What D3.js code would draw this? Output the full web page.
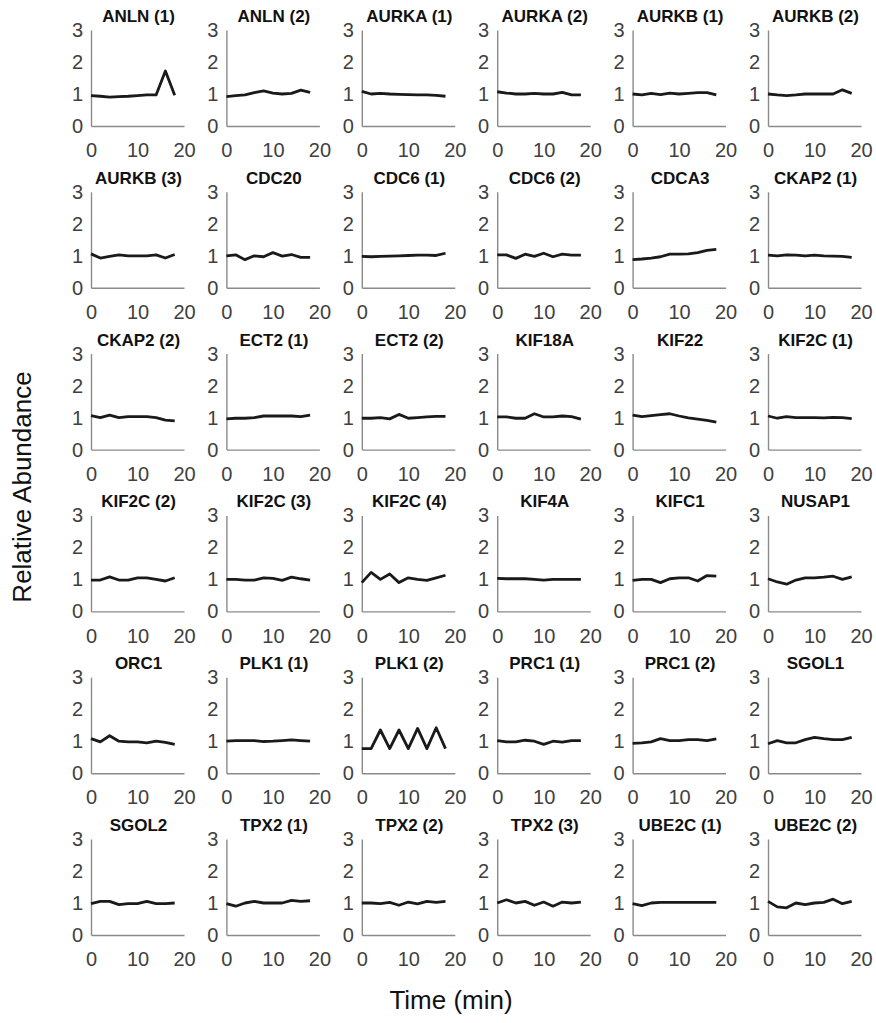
<!DOCTYPE html>
<html>
<head>
<meta charset="utf-8">
<script src="https://cdn.jsdelivr.net/npm/d3@7"></script>
<style>
  html, body { margin: 0; padding: 0; background: #fff; }
  svg { display: block; }
</style>
</head>
<body>
<svg id="chart" width="876" height="1023"></svg>
<script>
const times = [0, 2, 4, 6, 8, 10, 12, 14, 16, 18];
const panelNames = [
  "ANLN (1)", "ANLN (2)", "AURKA (1)", "AURKA (2)", "AURKB (1)", "AURKB (2)",
  "AURKB (3)", "CDC20", "CDC6 (1)", "CDC6 (2)", "CDCA3", "CKAP2 (1)",
  "CKAP2 (2)", "ECT2 (1)", "ECT2 (2)", "KIF18A", "KIF22", "KIF2C (1)",
  "KIF2C (2)", "KIF2C (3)", "KIF2C (4)", "KIF4A", "KIFC1", "NUSAP1",
  "ORC1", "PLK1 (1)", "PLK1 (2)", "PRC1 (1)", "PRC1 (2)", "SGOL1",
  "SGOL2", "TPX2 (1)", "TPX2 (2)", "TPX2 (3)", "UBE2C (1)", "UBE2C (2)"
];
const abundance = [
  [0.95,0.93,0.90,0.92,0.93,0.95,0.97,0.97,1.72,0.96],
  [0.92,0.95,0.97,1.04,1.10,1.03,1.00,1.02,1.12,1.05],
  [1.08,1.00,1.02,1.00,0.99,0.98,0.97,0.97,0.96,0.93],
  [1.07,1.03,1.00,1.00,1.02,1.00,1.00,1.05,0.97,0.97],
  [1.00,0.97,1.02,0.98,1.03,1.00,1.02,1.04,1.04,0.97],
  [1.00,0.97,0.95,0.97,1.00,1.00,1.00,1.00,1.13,1.02],
  [1.06,0.93,0.98,1.03,1.00,1.00,1.00,1.03,0.93,1.04],
  [1.00,1.03,0.88,1.00,0.97,1.10,0.99,1.04,0.95,0.95],
  [0.98,0.97,0.98,0.99,1.00,1.01,1.02,1.02,1.01,1.08],
  [1.03,1.03,0.92,1.05,0.98,1.08,0.97,1.05,1.02,1.02],
  [0.88,0.90,0.93,0.97,1.05,1.05,1.06,1.10,1.17,1.20],
  [1.02,1.00,1.03,1.02,1.00,1.02,1.00,0.99,0.98,0.95],
  [1.06,1.00,1.08,1.00,1.03,1.03,1.03,1.00,0.92,0.90],
  [0.96,0.98,0.98,1.00,1.05,1.05,1.05,1.05,1.03,1.08],
  [0.98,0.98,1.00,0.96,1.10,0.98,1.00,1.02,1.04,1.04],
  [1.02,1.02,0.98,0.98,1.12,1.02,1.02,1.05,1.03,0.95],
  [1.08,1.03,1.06,1.09,1.12,1.05,0.99,0.95,0.91,0.86],
  [1.05,0.98,1.03,1.00,1.00,1.00,0.99,1.01,1.00,0.97],
  [0.98,0.98,1.08,0.98,0.98,1.05,1.05,1.00,0.95,1.05],
  [1.00,1.00,0.98,0.98,1.05,1.03,0.97,1.07,1.02,0.98],
  [0.90,1.22,1.00,1.17,0.90,1.05,1.00,0.97,1.05,1.13],
  [1.03,1.02,1.02,1.02,1.00,0.98,1.00,1.00,1.00,1.00],
  [0.97,1.00,1.00,0.90,1.02,1.05,1.05,0.95,1.12,1.10],
  [1.02,0.92,0.85,0.98,1.05,1.05,1.07,1.10,1.00,1.08],
  [1.08,0.98,1.17,1.00,0.98,0.98,0.95,1.00,0.96,0.90],
  [1.00,1.02,1.02,1.02,0.99,1.00,1.02,1.04,1.02,1.00],
  [0.77,0.77,1.35,0.77,1.35,0.77,1.40,0.77,1.42,0.77],
  [1.02,0.98,0.98,1.03,1.00,0.90,1.00,0.97,1.02,1.02],
  [0.93,0.95,0.98,1.08,1.02,1.02,1.05,1.05,1.02,1.07],
  [0.92,1.02,0.95,0.95,1.05,1.12,1.08,1.05,1.05,1.12],
  [0.98,1.05,1.05,0.95,0.98,0.98,1.05,0.98,0.98,1.00],
  [0.98,0.90,1.00,1.05,1.00,1.00,1.00,1.08,1.05,1.07],
  [1.00,1.00,0.98,1.02,0.93,1.03,0.97,1.05,1.02,1.05],
  [1.00,1.10,1.00,1.05,0.93,1.03,0.90,1.03,1.00,1.03],
  [0.98,0.92,1.00,1.02,1.02,1.02,1.02,1.02,1.02,1.02],
  [1.05,0.88,0.85,1.00,0.95,1.00,1.02,1.12,0.98,1.05]
];
const xTicks = [0, 10, 20];
const yTicks = [0, 1, 2, 3];
const xLabel = "Time (min)";
const yLabel = "Relative Abundance";

const svg = d3.select("#chart");
const nCols = 6;
const colStep = 135.4, rowStep = 161.8;
const left0 = 91, base0 = 126;
const plotW = 93, plotH = 96;
const axisColor = "#8a8a8a";
const textColor = "#404040";

panelNames.forEach((name, i) => {
  const c = i % nCols, r = Math.floor(i / nCols);
  const x0 = left0 + c * colStep;
  const yb = base0 + r * rowStep;
  const g = svg.append("g").attr("transform", `translate(${x0},${yb - plotH})`);
  const x = d3.scaleLinear().domain([0, 20]).range([0, plotW]);
  const y = d3.scaleLinear().domain([0, 3]).range([plotH, 0]);

  const xa = g.append("g").attr("transform", `translate(0,${plotH})`)
    .call(d3.axisBottom(x).tickValues(xTicks).tickFormat(d3.format("d")).tickSize(0).tickPadding(17));
  const ya = g.append("g")
    .call(d3.axisLeft(y).tickValues(yTicks).tickFormat(d3.format("d")).tickSize(0).tickPadding(8));
  [xa, ya].forEach(a => {
    a.select(".domain").attr("stroke", axisColor).attr("stroke-width", 1.4);
    a.selectAll("text").attr("fill", textColor)
      .style("font-family", "Arial, 'Liberation Sans', sans-serif")
      .style("font-size", "20px");
  });

  g.append("path")
    .datum(abundance[i])
    .attr("fill", "none")
    .attr("stroke", "#1a1a1a")
    .attr("stroke-width", 2.8)
    .attr("stroke-linejoin", "round")
    .attr("d", d3.line().x((d, k) => x(times[k])).y(d => y(d)));

  g.append("text")
    .attr("x", plotW / 2 + 1)
    .attr("y", -8)
    .attr("text-anchor", "middle")
    .attr("fill", "#111")
    .style("font-family", "Arial, 'Liberation Sans', sans-serif")
    .style("font-weight", "bold")
    .style("font-size", "17px")
    .text(name);
});

svg.append("text")
  .attr("x", 451).attr("y", 1009)
  .attr("text-anchor", "middle")
  .attr("fill", "#111")
  .style("font-family", "Arial, 'Liberation Sans', sans-serif")
  .style("font-size", "26px")
  .text(xLabel);

svg.append("text")
  .attr("transform", "translate(31,487) rotate(-90)")
  .attr("text-anchor", "middle")
  .attr("fill", "#111")
  .style("font-family", "Arial, 'Liberation Sans', sans-serif")
  .style("font-size", "26px")
  .text(yLabel);
</script>
</body>
</html>
